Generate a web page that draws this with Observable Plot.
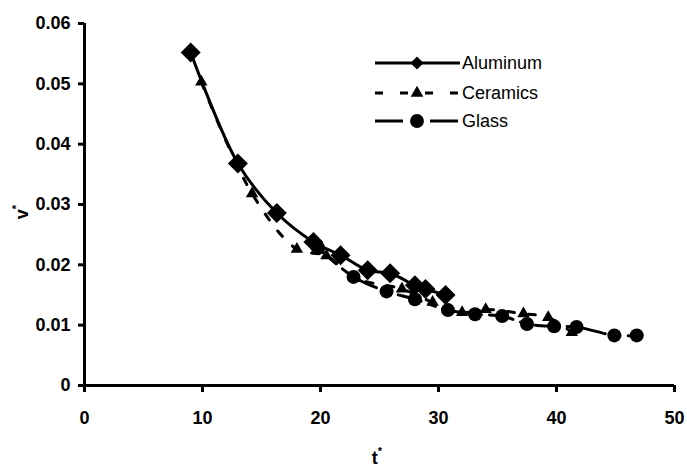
<!DOCTYPE html>
<html>
<head>
<meta charset="utf-8">
<script src="https://cdn.jsdelivr.net/npm/d3@7"></script>
<script src="https://cdn.jsdelivr.net/npm/@observablehq/plot@0.6"></script>
<style>
  html, body { margin: 0; padding: 0; background: #fff; }
  #wrap { position: relative; width: 687px; height: 472px; }
  #legend { position: absolute; left: 0; top: 0; }
</style>
</head>
<body>
<div id="wrap"></div>
<script>
// Data
const seriesNames = ["Aluminum", "Ceramics", "Glass"];
const aluminumT = [9.0, 13.0, 16.3, 19.4, 21.7, 24.0, 25.9, 28.0, 28.9, 30.6];
const aluminumV = [0.0552, 0.0368, 0.0286, 0.0238, 0.0216, 0.0191, 0.0186, 0.0166, 0.0160, 0.0150];
const ceramicsT = [9.9, 14.2, 18.0, 20.5, 23.0, 26.9, 29.5, 32.0, 34.0, 37.2, 39.3, 41.3];
const ceramicsV = [0.0503, 0.0318, 0.0226, 0.0215, 0.0178, 0.0160, 0.0138, 0.0121, 0.0126, 0.0119, 0.0113, 0.0088];
const glassT = [19.8, 22.8, 25.6, 28.0, 30.8, 33.1, 35.4, 37.5, 39.8, 41.7, 44.9, 46.8];
const glassV = [0.0228, 0.0180, 0.0156, 0.0143, 0.0125, 0.0118, 0.0115, 0.0102, 0.0098, 0.0097, 0.0083, 0.0083];
const xTicks = [0, 10, 20, 30, 40, 50];
const yTicks = [0, 0.01, 0.02, 0.03, 0.04, 0.05, 0.06];

const toRows = (ts, vs, s) => ts.map((t, i) => ({t, v: vs[i], series: s}));
const aluminum = toRows(aluminumT, aluminumV, seriesNames[0]);
const ceramics = toRows(ceramicsT, ceramicsV, seriesNames[1]);
const glass = toRows(glassT, glassV, seriesNames[2]);

const dashCeramics = "7,14";
const dashGlass = "24,8,7,8";
const font = "'Liberation Sans', Arial, sans-serif";

const chart = Plot.plot({
  width: 687,
  height: 472,
  marginLeft: 84,
  marginRight: 13,
  marginTop: 23,
  marginBottom: 87,
  style: {fontFamily: font, background: "#fff", color: "#000", overflow: "visible"},
  x: {domain: [0, 50]},
  y: {domain: [0, 0.06]},
  marks: [
    Plot.axisX(xTicks, {tickSize: 7, tickPadding: 19, strokeWidth: 3, fontSize: 18, fontWeight: "bold", label: null}),
    Plot.axisY(yTicks, {tickSize: 6, tickPadding: 8, strokeWidth: 3, fontSize: 18, fontWeight: "bold", label: null,
      tickFormat: d => d === 0 ? "0" : d3.format(".2f")(d)}),
    Plot.ruleX([0], {stroke: "#000", strokeWidth: 3}),
    Plot.ruleY([0], {stroke: "#000", strokeWidth: 3}),
    Plot.line(glass, {x: "t", y: "v", stroke: "#000", strokeWidth: 3, strokeDasharray: dashGlass, curve: "catmull-rom"}),
    Plot.line(ceramics, {x: "t", y: "v", stroke: "#000", strokeWidth: 3, strokeDasharray: dashCeramics, curve: "catmull-rom"}),
    Plot.line(aluminum, {x: "t", y: "v", stroke: "#000", strokeWidth: 3, curve: "catmull-rom"}),
    Plot.dot(glass, {x: "t", y: "v", r: 7, symbol: "circle", fill: "#000", stroke: "none"}),
    Plot.dot(ceramics, {x: "t", y: "v", r: 4.6, symbol: "triangle", fill: "#000", stroke: "none"}),
    Plot.dot(aluminum, {x: "t", y: "v", r: 9, symbol: "diamond2", fill: "#000", stroke: "none"})
  ]
});

const wrap = document.getElementById("wrap");
wrap.appendChild(chart);

// axis titles and legend overlay
const svg = d3.select(wrap).append("svg")
  .attr("id", "legend").attr("width", 687).attr("height", 472)
  .style("font-family", font);

// y label v*
const yl = svg.append("text")
  .attr("transform", "translate(28,212) rotate(-90)")
  .attr("text-anchor", "middle")
  .attr("font-size", 18).attr("font-weight", "bold");
yl.append("tspan").text("v");
yl.append("tspan").attr("dy", -8).attr("font-size", 11).text("*");

// x label t*
const xl = svg.append("text")
  .attr("x", 377).attr("y", 464)
  .attr("text-anchor", "middle")
  .attr("font-size", 18).attr("font-weight", "bold");
xl.append("tspan").text("t");
xl.append("tspan").attr("dy", -9).attr("font-size", 11).text("*");

const legendRows = [
  {name: seriesNames[0], dash: null, sym: d3.symbolDiamond2, size: 110, y: 63},
  {name: seriesNames[1], dash: "8,17", sym: d3.symbolTriangle, size: 70, y: 93},
  {name: seriesNames[2], dash: "28,8,7,12", sym: d3.symbolCircle, size: 150, y: 121}
];
for (const r of legendRows) {
  const ln = svg.append("line").attr("x1", 375).attr("x2", 460).attr("y1", r.y).attr("y2", r.y)
    .attr("stroke", "#000").attr("stroke-width", 3);
  if (r.dash) ln.attr("stroke-dasharray", r.dash);
  svg.append("path").attr("d", d3.symbol(r.sym, r.size)())
    .attr("transform", `translate(417,${r.y})`).attr("fill", "#000");
  svg.append("text").attr("x", 462).attr("y", r.y).attr("dy", "0.35em")
    .attr("font-size", 18).text(r.name);
}
</script>
</body>
</html>
